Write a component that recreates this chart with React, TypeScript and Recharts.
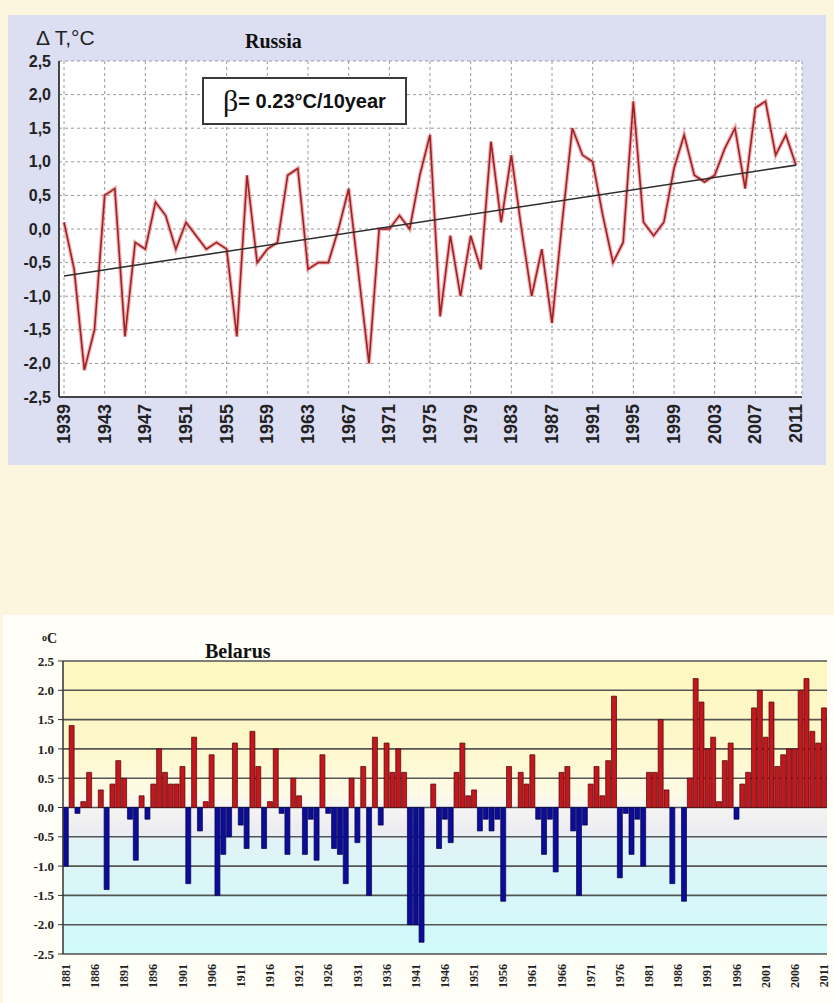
import React from 'react';
import {
  LineChart, Line, XAxis, YAxis, CartesianGrid, ReferenceLine,
  BarChart, Bar, Cell,
} from 'recharts';

// ---------- Russia ----------
const russiaYears = [
  1939, 1940, 1941, 1942, 1943, 1944, 1945, 1946, 1947, 1948,
  1949, 1950, 1951, 1952, 1953, 1954, 1955, 1956, 1957, 1958,
  1959, 1960, 1961, 1962, 1963, 1964, 1965, 1966, 1967, 1968,
  1969, 1970, 1971, 1972, 1973, 1974, 1975, 1976, 1977, 1978,
  1979, 1980, 1981, 1982, 1983, 1984, 1985, 1986, 1987, 1988,
  1989, 1990, 1991, 1992, 1993, 1994, 1995, 1996, 1997, 1998,
  1999, 2000, 2001, 2002, 2003, 2004, 2005, 2006, 2007, 2008,
  2009, 2010, 2011,
];
const russiaAnomaly = [
  0.1, -0.6, -2.1, -1.5, 0.5, 0.6, -1.6, -0.2, -0.3, 0.4,
  0.2, -0.3, 0.1, -0.1, -0.3, -0.2, -0.3, -1.6, 0.8, -0.5,
  -0.3, -0.2, 0.8, 0.9, -0.6, -0.5, -0.5, 0.0, 0.6, -0.7,
  -2.0, 0.0, 0.0, 0.2, 0.0, 0.8, 1.4, -1.3, -0.1, -1.0,
  -0.1, -0.6, 1.3, 0.1, 1.1, 0.0, -1.0, -0.3, -1.4, 0.1,
  1.5, 1.1, 1.0, 0.2, -0.5, -0.2, 1.9, 0.1, -0.1, 0.1,
  0.9, 1.4, 0.8, 0.7, 0.8, 1.2, 1.5, 0.6, 1.8, 1.9,
  1.1, 1.4, 0.95,
];
const russiaTrendFrom = { x: 1939, y: -0.7 };
const russiaTrendTo = { x: 2011, y: 0.95 };
const russiaXTicks = [
  1939, 1943, 1947, 1951, 1955, 1959, 1963, 1967, 1971, 1975,
  1979, 1983, 1987, 1991, 1995, 1999, 2003, 2007, 2011,
];
const tempTicks = [2.5, 2.0, 1.5, 1.0, 0.5, 0.0, -0.5, -1.0, -1.5, -2.0, -2.5];

// ---------- Belarus ----------
const belarusFirstYear = 1881;
const belarusAnomaly = [
  -1.0, 1.4, -0.1, 0.1, 0.6, 0.0, 0.3, -1.4, 0.4, 0.8,
  0.5, -0.2, -0.9, 0.2, -0.2, 0.4, 1.0, 0.6, 0.4, 0.4,
  0.7, -1.3, 1.2, -0.4, 0.1, 0.9, -1.5, -0.8, -0.5, 1.1,
  -0.3, -0.7, 1.3, 0.7, -0.7, 0.1, 1.0, -0.1, -0.8, 0.5,
  0.2, -0.8, -0.2, -0.9, 0.9, -0.1, -0.7, -0.8, -1.3, 0.5,
  -0.6, 0.7, -1.5, 1.2, -0.3, 1.1, 0.6, 1.0, 0.6, -2.0,
  -2.0, -2.3, 0.0, 0.4, -0.7, -0.2, -0.6, 0.6, 1.1, 0.2,
  0.3, -0.4, -0.2, -0.4, -0.2, -1.6, 0.7, 0.0, 0.6, 0.4,
  0.9, -0.2, -0.8, -0.2, -1.1, 0.6, 0.7, -0.4, -1.5, -0.3,
  0.4, 0.7, 0.2, 0.8, 1.9, -1.2, -0.1, -0.8, -0.2, -1.0,
  0.6, 0.6, 1.5, 0.3, -1.3, 0.0, -1.6, 0.5, 2.2, 1.8,
  1.0, 1.2, 0.1, 0.8, 1.1, -0.2, 0.4, 0.6, 1.7, 2.0,
  1.2, 1.8, 0.7, 0.9, 1.0, 1.0, 2.0, 2.2, 1.3, 1.1,
  1.7,
];
const belarusYears = belarusAnomaly.map((_, i) => belarusFirstYear + i);

const russiaData = russiaYears.map((year, i) => ({ year, t: russiaAnomaly[i] }));
const belarusData = belarusYears.map((year, i) => ({ year: String(year), v: belarusAnomaly[i] }));

const SANS = '"Liberation Sans", Arial, sans-serif';
const SERIF = '"Liberation Serif", "Times New Roman", serif';

function RotTick(props: any) {
  const { x, y, payload, gap, fontSize, fontFamily } = props;
  return (
    <g transform={`translate(${x},${y})`}>
      <text
        transform="rotate(-90)"
        x={-gap}
        y={0}
        textAnchor="end"
        dominantBaseline="central"
        fontSize={fontSize}
        fontFamily={fontFamily}
        fontWeight="bold"
        fill="#222"
      >
        {payload.value}
      </text>
    </g>
  );
}

function RussiaChart() {
  return (
    <div style={{ position: 'absolute', left: 8, top: 15, width: 818, height: 450, background: '#dcdef2' }}>
      <LineChart width={818} height={450} data={russiaData} margin={{ top: 46, right: 24, left: 0, bottom: 0 }}>
        <CartesianGrid strokeDasharray="3 3" stroke="#9a9a9a" fill="#ffffff" />
        <XAxis
          dataKey="year"
          type="number"
          domain={[1939, 2011]}
          ticks={russiaXTicks}
          interval={0}
          padding={{ left: 5, right: 6 }}
          height={68}
          tickLine={false}
          tickSize={0}
          tickMargin={0}
          axisLine={{ stroke: '#444', strokeWidth: 2 }}
          tick={(p: any) => <RotTick {...p} gap={7} fontSize={18} fontFamily={SANS} />}
        />
        <XAxis xAxisId="top" orientation="top" type="number" domain={[1939, 2011]} height={0} tick={false} tickLine={false} axisLine={{ stroke: '#444', strokeWidth: 2 }} />
        <YAxis
          domain={[-2.5, 2.5]}
          ticks={tempTicks}
          interval={0}
          width={51}
          tickLine={false}
          tickSize={0}
          tickMargin={8}
          axisLine={{ stroke: '#444', strokeWidth: 2 }}
          tickFormatter={(v: number) => v.toFixed(1).replace('.', ',')}
          tick={{ fontSize: 16, fontFamily: SANS, fontWeight: 'bold', fill: '#222' }}
        />
        <YAxis yAxisId="right" orientation="right" domain={[-2.5, 2.5]} width={0} tick={false} tickLine={false} axisLine={{ stroke: '#444', strokeWidth: 2 }} />
        <Line dataKey="t" type="linear" stroke="#e87070" strokeOpacity={0.55} strokeWidth={4} dot={false} isAnimationActive={false} />
        <Line dataKey="t" type="linear" stroke="#9c2228" strokeWidth={1.6} dot={false} isAnimationActive={false} />
        <ReferenceLine segment={[russiaTrendFrom, russiaTrendTo]} stroke="#2e2e2e" strokeWidth={1.6} />
      </LineChart>
      <div style={{ position: 'absolute', left: 28, top: 12, fontFamily: SANS, fontSize: 21, lineHeight: '22px', color: '#222', whiteSpace: 'nowrap' }}>
        Δ T,°C
      </div>
      <div style={{ position: 'absolute', left: 237, top: 16, fontFamily: SERIF, fontSize: 20, fontWeight: 'bold', lineHeight: '20px', color: '#111' }}>
        Russia
      </div>
      <div style={{
        position: 'absolute', left: 194, top: 62, width: 201, height: 44,
        border: '2px solid #3a3a3a', background: '#fff', display: 'flex', alignItems: 'center',
        justifyContent: 'center', whiteSpace: 'nowrap', color: '#111',
      }}>
        <span style={{ fontFamily: SERIF, fontSize: 30, lineHeight: '32px' }}>β</span>
        <span style={{ fontFamily: SANS, fontSize: 20, fontWeight: 'bold' }}>= 0.23°C/10year</span>
      </div>
    </div>
  );
}

function BelarusChart() {
  return (
    <div style={{ position: 'absolute', left: 3, top: 615, width: 831, height: 388, background: '#fffef7' }}>
      <BarChart width={831} height={388} data={belarusData} margin={{ top: 46, right: 7, left: 0, bottom: 0 }} barCategoryGap={0.3}>
        <defs>
          <linearGradient id="belBg" x1="0" y1="0" x2="0" y2="1">
            <stop offset="0%" stopColor="#fdf7c0" />
            <stop offset="30%" stopColor="#fdf8ca" />
            <stop offset="45%" stopColor="#fefbe6" />
            <stop offset="50%" stopColor="#f6f4f2" />
            <stop offset="58%" stopColor="#ebecf1" />
            <stop offset="62%" stopColor="#dff4f6" />
            <stop offset="100%" stopColor="#d0fafa" />
          </linearGradient>
        </defs>
        <CartesianGrid vertical={false} stroke="#555" strokeWidth={1.6} fill="url(#belBg)" />
        <XAxis
          dataKey="year"
          interval={4}
          height={49}
          tickLine={false}
          tickSize={0}
          tickMargin={0}
          axisLine={{ stroke: '#777', strokeWidth: 1 }}
          tick={(p: any) => <RotTick {...p} gap={10} fontSize={12} fontFamily={SERIF} />}
        />
        <XAxis xAxisId="top" orientation="top" dataKey="year" height={0} tick={false} tickLine={false} axisLine={{ stroke: '#b0b0b0', strokeWidth: 1.5 }} />
        <YAxis
          domain={[-2.5, 2.5]}
          ticks={tempTicks}
          interval={0}
          width={60}
          tickSize={5}
          tickMargin={4}
          tickLine={{ stroke: '#333' }}
          axisLine={{ stroke: '#333', strokeWidth: 1.5 }}
          tickFormatter={(v: number) => v.toFixed(1)}
          tick={{ fontSize: 13, fontFamily: SERIF, fontWeight: 'bold', fill: '#222' }}
        />
        <YAxis yAxisId="right" orientation="right" domain={[-2.5, 2.5]} width={0} tick={false} tickLine={false} axisLine={{ stroke: '#b0b0b0', strokeWidth: 1.5 }} />
        <Bar dataKey="v" isAnimationActive={false} strokeWidth={0.7}>
          {belarusData.map((d) => (
            <Cell
              key={d.year}
              fill={d.v >= 0 ? '#c3161d' : '#0c0c98'}
              stroke={d.v >= 0 ? '#4a0608' : '#03034a'}
            />
          ))}
        </Bar>
      </BarChart>
      <div style={{ position: 'absolute', left: 39, top: 16, fontFamily: SERIF, fontSize: 14, fontWeight: 'bold', color: '#222' }}>
        <span style={{ fontSize: 10, verticalAlign: '2px' }}>o</span>C
      </div>
      <div style={{ position: 'absolute', left: 202, top: 26, fontFamily: SERIF, fontSize: 20, fontWeight: 'bold', lineHeight: '20px', color: '#111' }}>
        Belarus
      </div>
    </div>
  );
}

export default function App() {
  return (
    <div style={{ position: 'absolute', left: 0, top: 0, width: 834, height: 1003, background: '#fcf6df', overflow: 'hidden' }}>
      <RussiaChart />
      <BelarusChart />
    </div>
  );
}
